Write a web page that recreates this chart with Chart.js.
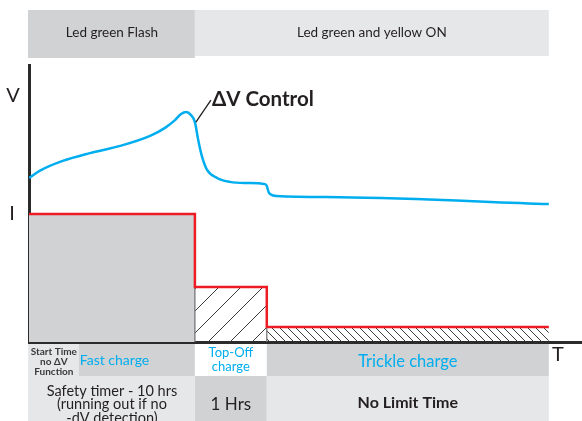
<!DOCTYPE html>
<html><head><meta charset="utf-8">
<script src="https://cdn.jsdelivr.net/npm/chart.js@4/dist/chart.umd.min.js"></script>
<style>html,body{margin:0;padding:0;background:#fff}#wrap{width:582px;height:421px;position:relative}</style>
</head><body><div id="wrap"><canvas id="c"></canvas></div>
<script>
// ---- data (arbitrary time units 0..100, arbitrary level units 0..100) ----
const voltageTime = [0,2,6.1,11,16.5,21.9,24.6,26.4,27.5,28.4,29.3,30,30.6,31.3,32.2,34,36.3,39.4,42.7,43,43.4,44.8,56.2,94];
const voltage     = [59.2,61.9,65.4,68.2,70.8,74.4,77.3,80.1,82.3,83,81.9,79.4,72.9,66.8,62.1,59.2,57.8,57.4,57,56.3,53.8,52.7,52.3,49.8];
const currentTime = [0,30,30,43,43,94];
const current     = [46.2,46.2,19.9,19.9,5.4,5.4];
const topOffTime  = [30,30,43,43];
const topOffLevel = [0,19.9,19.9,0];
const trickleTime = [43,43,94,94];
const trickleLevel= [0,5.4,5.4,0];
const phaseEdges  = [0,9,30,43,94];      // start-time | fast | top-off | trickle
const ledEdges    = [0,30,94];
const ledLabels   = ['Led green Flash','Led green and yellow ON'];
const phaseLabels = [['Start Time','no \u0394V','Function'],['Fast charge'],['Top-Off','charge'],['Trickle charge']];
const timerLabels = [['Safety timer - 10 hrs','(running out if no','-dV detection)'],['1 Hrs'],['No Limit Time']];
const deltaVLabel = '\u0394V Control';
const deltaVIndex = 11;

const pts = (xs, ys) => xs.map((v,i)=>({x:v,y:ys[i]}));

function hatch(size, dir){
  const c = document.createElement('canvas'); c.width=size; c.height=size;
  const g = c.getContext('2d'); g.strokeStyle='#3a3a3a'; g.lineWidth=1;
  g.beginPath();
  for (let k=-1;k<=1;k++){
    if (dir==='/'){ g.moveTo(k*size, size); g.lineTo(k*size+size, 0); }
    else { g.moveTo(k*size, 0); g.lineTo(k*size+size, size); }
  }
  g.stroke();
  return g.createPattern(c,'repeat');
}

const F = 'Lato, "Open Sans", sans-serif';
const DARK='#d1d2d4', LIGHT='#e6e7e8', CYAN='#00aeef', INK='#231f20';

const deco = {
  id:'deco',
  beforeDraw(chart){
    const {ctx, chartArea:a, scales:{x}} = chart;
    const px = v => x.getPixelForValue(v);
    const W = chart.width, H = chart.height;
    ctx.save();
    ctx.fillStyle='#fff'; ctx.fillRect(0,0,W,H);
    // header
    ctx.fillStyle=DARK;  ctx.fillRect(px(ledEdges[0])-1, 10, px(ledEdges[1])-px(ledEdges[0])+1, 48);
    ctx.fillStyle=LIGHT; ctx.fillRect(px(ledEdges[1]), 10, px(ledEdges[2])-px(ledEdges[1]), 46);
    // footer row 1
    const r1 = a.bottom+2, r2 = 376;
    const row1 = [LIGHT, DARK, '#ffffff', DARK];
    for (let i=0;i<4;i++){ ctx.fillStyle=row1[i]; ctx.fillRect(px(phaseEdges[i])-(i?0:1), r1, px(phaseEdges[i+1])-px(phaseEdges[i])+(i?0:1), r2-r1); }
    const row2 = [LIGHT, DARK, LIGHT]; const e2=[phaseEdges[0],phaseEdges[2],phaseEdges[3],phaseEdges[4]];
    for (let i=0;i<3;i++){ ctx.fillStyle=row2[i]; ctx.fillRect(px(e2[i])-(i?0:1), r2, px(e2[i+1])-px(e2[i])+(i?0:1), H-r2); }
    ctx.restore();
  },
  afterDraw(chart){
    const {ctx, chartArea:a, scales:{x,y}} = chart;
    const px = v => x.getPixelForValue(v);
    const mid = (l,r)=> (px(l)+px(r))/2;
    ctx.save();
    ctx.textBaseline='middle'; ctx.textAlign='center'; ctx.fillStyle=INK;
    ctx.font='13.5px '+F;
    ctx.fillText(ledLabels[0], mid(ledEdges[0],ledEdges[1]), 33);
    ctx.fillText(ledLabels[1], mid(ledEdges[1],ledEdges[2]), 33);
    // axis letters
    ctx.font='20px '+F;
    ctx.fillText('V', 13, 96);
    ctx.fillText('I', 12, 214);
    ctx.fillText('T', 558, 355);
    // delta V label
    const p = {x:px(voltageTime[deltaVIndex]), y:y.getPixelForValue(voltage[deltaVIndex])};
    ctx.strokeStyle=INK; ctx.lineWidth=1.3;
    ctx.beginPath(); ctx.moveTo(p.x+1, p.y); ctx.lineTo(p.x+16, p.y-22); ctx.stroke();
    ctx.textAlign='left'; ctx.font='bold 20.5px '+F;
    ctx.fillText(deltaVLabel, p.x+17, p.y-23);
    // footer texts
    ctx.textAlign='center';
    ctx.font='bold 10px '+F; ctx.fillStyle='#3a3a3a';
    phaseLabels[0].forEach((t,i)=>ctx.fillText(t, mid(phaseEdges[0],phaseEdges[1]), 352+i*10));
    ctx.fillStyle=CYAN; ctx.font='14px '+F; ctx.textAlign='left';
    ctx.fillText(phaseLabels[1][0], px(phaseEdges[1])+1, 360);
    ctx.textAlign='center'; ctx.font='13px '+F;
    phaseLabels[2].forEach((t,i)=>ctx.fillText(t, mid(phaseEdges[2],phaseEdges[3]), 353+i*14));
    ctx.font='16.5px '+F;
    ctx.fillText(phaseLabels[3][0], mid(phaseEdges[3],phaseEdges[4]), 362);
    ctx.fillStyle=INK; ctx.font='14.5px '+F;
    timerLabels[0].forEach((t,i)=>ctx.fillText(t, mid(phaseEdges[0],phaseEdges[2]), 391+i*13.5));
    ctx.font='17px '+F;
    ctx.fillText(timerLabels[1][0], mid(phaseEdges[2],phaseEdges[3]), 405);
    ctx.font='bold 16px '+F;
    ctx.fillText(timerLabels[2][0], mid(phaseEdges[3],phaseEdges[4]), 403);
    ctx.restore();
  }
};

new Chart(document.getElementById('c'), {
  type:'scatter',
  data:{ datasets:[
    {label:'I', data:pts(currentTime,current), showLine:true, borderColor:'#ed1c24', borderWidth:2.5, pointRadius:0, fill:false, tension:0},
    {label:'V', data:pts(voltageTime,voltage), showLine:true, borderColor:CYAN, borderWidth:2.5, pointRadius:0, fill:false, cubicInterpolationMode:'monotone'},
    {label:'top-off', data:pts(topOffTime,topOffLevel), showLine:true, borderColor:'#6d6e71', borderWidth:1.2, pointRadius:0, fill:'origin', backgroundColor:hatch(22,'/'), tension:0},
    {label:'trickle', data:pts(trickleTime,trickleLevel), showLine:true, borderColor:'rgba(0,0,0,0)', borderWidth:0, pointRadius:0, fill:'origin', backgroundColor:hatch(8,'\\'), tension:0},
    {label:'fast', data:pts([currentTime[0],currentTime[1]],[current[0],current[1]]), showLine:true, borderColor:'rgba(0,0,0,0)', borderWidth:0, pointRadius:0, fill:'origin', backgroundColor:DARK, tension:0}
  ]},
  options:{
    responsive:true, maintainAspectRatio:false, devicePixelRatio:1, animation:false,
    layout:{padding:{top:65,bottom:79,left:29,right:0}},
    plugins:{legend:{display:false}, tooltip:{enabled:false}},
    scales:{
      x:{type:'linear', min:0, max:100, grid:{display:false, drawTicks:false}, ticks:{display:false}, border:{display:true, color:'#2b2b2b', width:3}},
      y:{type:'linear', min:0, max:100, grid:{display:false, drawTicks:false}, ticks:{display:false}, border:{display:true, color:'#2b2b2b', width:3}}
    }
  },
  plugins:[deco]
});
</script></body></html>
